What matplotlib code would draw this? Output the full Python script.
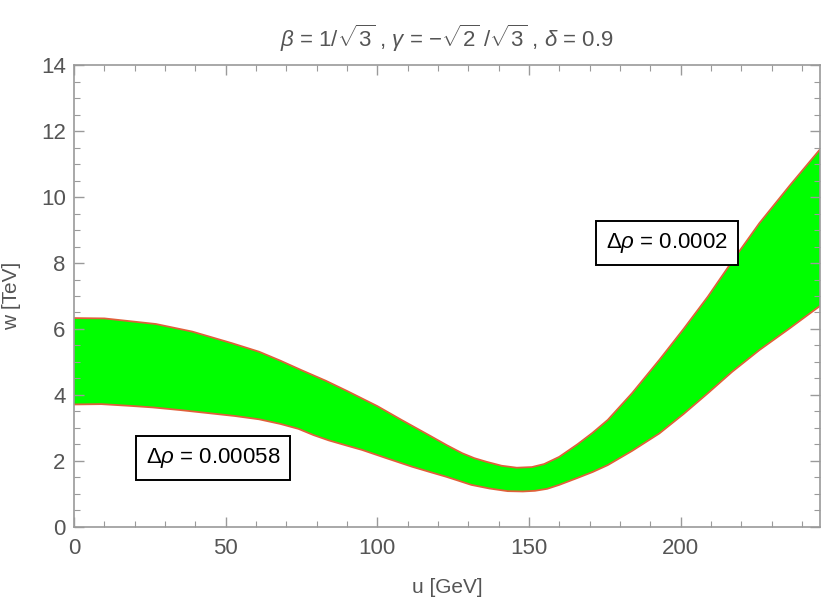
import numpy as np
import matplotlib
matplotlib.use("Agg")
import matplotlib.pyplot as plt
from matplotlib.ticker import MultipleLocator

plt.rcParams['font.family'] = ['Liberation Sans', 'DejaVu Sans']
plt.rcParams['mathtext.fontset'] = 'custom'
plt.rcParams['mathtext.rm'] = 'Liberation Sans'
plt.rcParams['mathtext.it'] = 'Liberation Sans:italic'

# upper boundary of the allowed band
u_upper = [0, 10, 17, 27, 39, 52, 61, 68, 75, 83, 90, 100, 108, 117, 123, 128,
           132, 136, 141, 146, 151, 155, 160, 166, 171, 176, 184, 193, 201, 209,
           217, 226, 236, 246]
w_upper = [6.33, 6.32, 6.25, 6.15, 5.92, 5.57, 5.31, 5.04, 4.75, 4.43, 4.12,
           3.66, 3.24, 2.78, 2.47, 2.23, 2.08, 1.97, 1.85, 1.79, 1.81, 1.90,
           2.12, 2.50, 2.85, 3.24, 4.05, 5.06, 6.00, 6.98, 8.05, 9.21, 10.35, 11.45]

# lower boundary
u_lower = [0, 9, 18, 26, 35, 45, 53, 61, 68, 74, 79, 84, 90, 95, 103, 111.5,
           117, 122.6, 127, 131, 137, 143, 148, 152, 156, 160, 166, 171, 176,
           184, 193, 201, 209, 217, 226, 236, 246]
w_lower = [3.71, 3.72, 3.67, 3.62, 3.54, 3.44, 3.36, 3.26, 3.12, 2.97, 2.78,
           2.62, 2.46, 2.33, 2.08, 1.82, 1.67, 1.52, 1.39, 1.27, 1.16, 1.08,
           1.07, 1.09, 1.15, 1.27, 1.48, 1.66, 1.87, 2.30, 2.83, 3.42, 4.05,
           4.70, 5.36, 6.02, 6.70]

labels = [r'$\Delta\rho$ = 0.0002', r'$\Delta\rho$ = 0.00058']
label_u = [195.4, 45.8]
label_w = [8.62, 2.10]

txt_col = '#555555'
frame_col = '#9a9a9a'

fig = plt.figure(figsize=(8.25, 6.09), dpi=100)
ax = fig.add_axes([0.0897, 0.1351, 0.9043, 0.7577])

poly_u = np.concatenate([u_upper, u_lower[::-1]])
poly_w = np.concatenate([w_upper, w_lower[::-1]])
ax.fill(poly_u, poly_w, color='#00ff00', lw=0)
ax.plot(u_upper, w_upper, color='#e0603a', lw=1.3)
ax.plot(u_lower, w_lower, color='#e0603a', lw=1.3)

for s, x, y in zip(labels, label_u, label_w):
    ax.text(x, y, s, ha='center', va='center', fontsize=16, color='black',
            bbox=dict(boxstyle='square,pad=0.45', fc='white', ec='black', lw=1.4))

ax.set_xlim(0, 246)
ax.set_ylim(0, 14)
ax.xaxis.set_major_locator(MultipleLocator(50))
ax.xaxis.set_minor_locator(MultipleLocator(10))
ax.yaxis.set_major_locator(MultipleLocator(2))
ax.yaxis.set_minor_locator(MultipleLocator(0.5))
ax.tick_params(which='both', direction='in', top=True, right=True,
               color=frame_col, labelcolor=txt_col, labelsize=16)
ax.tick_params(which='major', length=7, width=1)
ax.tick_params(which='minor', length=4, width=0.8)
ax.tick_params(axis='x', pad=8)
ax.tick_params(axis='y', pad=6)
for sp in ax.spines.values():
    sp.set_color(frame_col)
    sp.set_linewidth(1.2)

ax.set_xlabel('u [GeV]', fontsize=15, color=txt_col, labelpad=14)
ax.set_ylabel('w [TeV]', fontsize=15, color=txt_col, labelpad=14)
ax.set_title(r'$\beta$ = 1/$\sqrt{3}$ , $\gamma$ = $-\sqrt{2}$ /$\sqrt{3}$ , $\delta$ = 0.9',
             fontsize=16, color=txt_col, pad=13)

fig.savefig('out.png', dpi=100)
